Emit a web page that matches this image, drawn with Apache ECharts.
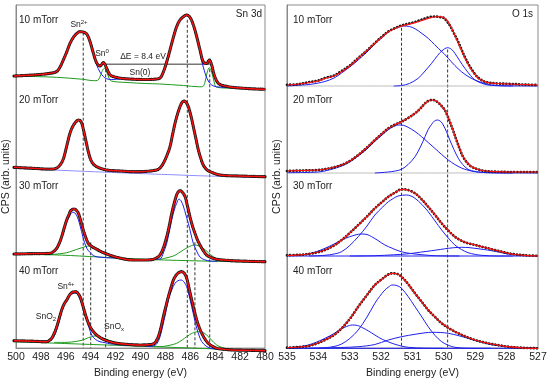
<!DOCTYPE html>
<html><head><meta charset="utf-8">
<script src="https://cdn.jsdelivr.net/npm/echarts@6/dist/echarts.min.js"></script>
<style>html,body{margin:0;padding:0;background:#fff}#c{width:550px;height:384px}</style>
</head><body><div id="c"></div>
<script>
// ================= DATA =================
const pressures = ['10 mTorr', '20 mTorr', '30 mTorr', '40 mTorr'];
const snTicks = [480, 482, 484, 486, 488, 490, 492, 494, 496, 498, 500];
const oTicks = [527, 528, 529, 530, 531, 532, 533, 534, 535];
const xTitle = 'Binding energy (eV)';
const yTitle = 'CPS (arb. units)';

// Sn 3d reference energies (dashed lines) and ΔE bracket
const snRefE = [494.6, 492.8, 486.24, 484.44, 494.0, 485.63];
const oRefE = [531.35, 529.88];
const deltaE = [492.8, 484.44];

// ---- Sn 3d, 10 mTorr ----
const sn10_fit = [[500,10],[498.5,11],[497.2,12.5],[496.6,14.5],[496.33,19],[496.07,26],[495.8,34],[495.54,42.5],[495.27,48.5],[495.0,52.5],[494.74,54.3],[494.5,54],[494.21,52],[493.94,44.3],[493.68,33],[493.41,23],[493.15,20],[492.88,23.3],[492.61,17.5],[492.4,12],[492.21,10],[491.5,7.8],[490.5,6.8],[489.5,6.5],[488.8,6.8],[488.37,8],[488.1,14],[487.83,24.3],[487.57,36],[487.3,48.7],[487.04,59.3],[486.77,66],[486.51,69.3],[486.24,71],[485.98,68.7],[485.71,61],[485.44,49.3],[485.18,36],[484.92,24.3],[484.65,22.5],[484.44,26],[484.25,21],[484.07,12],[483.85,5],[483.59,1.5],[483,-0.5],[482.5,-1.5],[481,-2.8],[480,-3.3]];
const sn10_sn2 = [[500,10],[498.5,11],[497.2,12.5],[496.6,14.5],[496.33,19],[496.07,26],[495.8,34],[495.54,42.5],[495.27,48.5],[495.0,52.5],[494.74,54.3],[494.5,54],[494.21,52],[493.94,44.3],[493.68,32.5],[493.41,21],[493.15,14],[492.88,9.5],[492.61,7.2],[492.21,6.5],[491.5,7],[490.5,6.5],[489.5,6.3],[488.8,6.6],[488.37,7.8],[488.1,14],[487.83,24.3],[487.57,36],[487.3,48.7],[487.04,59.3],[486.77,66],[486.51,69.3],[486.24,71],[485.98,68.7],[485.71,61],[485.44,49.3],[485.18,34],[485.04,25],[484.78,13],[484.52,5],[484.25,1],[483.85,-0.8],[483,-1.5],[482.5,-2],[481,-2.8],[480,-3.3]];
const sn10_sn0 = [[500,10],[498,9.3],[496.6,8.7],[494.6,6.8],[493.6,5.3],[493.35,5.6],[493.15,9],[492.99,14.5],[492.8,17.7],[492.61,14],[492.43,8],[492.25,5],[491,3.5],[489.5,2.5],[488.4,2],[486.5,0.5],[485.2,-0.8],[484.95,-0.5],[484.78,4],[484.6,14],[484.44,18.3],[484.25,14],[484.07,5],[483.85,-1.2],[482.5,-2.3],[480,-3.3]];

// ---- Sn 3d, 20 mTorr ----
const sn20_fit = [[500,5.7],[498.5,4.7],[497.2,3.9],[496.87,4],[496.6,5],[496.33,8],[496.1,13],[495.94,19.7],[495.74,30],[495.54,39.7],[495.34,46],[495.14,50],[494.87,53],[494.74,52.5],[494.61,50],[494.48,44],[494.34,36.3],[494.2,28],[494.08,21.3],[493.81,11.3],[493.41,6.3],[492.61,3],[491.5,2],[490.49,1.3],[489.5,1.6],[488.63,3],[488.37,5],[488.1,9.7],[487.83,17],[487.57,26.3],[487.37,38],[487.17,49.7],[486.97,59],[486.77,66.3],[486.61,70.5],[486.45,72],[486.28,70.5],[486.11,66.3],[485.9,57],[485.71,46.3],[485.5,34],[485.31,23],[485.1,14],[484.92,8],[484.65,3.5],[484.38,1.3],[483.59,-2],[482,-3],[480,-3.7]];
const sn20_bg = [[500,4.7],[496.87,3],[493.5,1.2],[490.5,-0.3],[487.5,-1.7],[484.6,-3],[480,-4.3]];

// ---- Sn 3d, 30 mTorr ----
const sn30_fit = [[500,2],[498.5,2.4],[497.13,2.7],[496.85,4.5],[496.6,7.7],[496.4,12.5],[496.2,19.3],[496.0,28],[495.8,36],[495.6,42],[495.48,45.3],[495.22,47],[495.05,46],[494.87,42.7],[494.68,35],[494.48,26],[494.28,18.5],[494.08,12.7],[493.8,9.5],[493.55,7.7],[493.2,5.3],[492.88,3.3],[491.82,-1.3],[490.49,-4],[489.5,-4],[488.9,-3.3],[488.6,-1.5],[488.37,1],[488.1,8],[487.83,19.3],[487.63,30],[487.43,42.7],[487.23,53],[487.04,61],[486.9,64.3],[486.77,65.3],[486.6,64],[486.37,59.3],[486.18,50],[485.98,39.3],[485.78,30],[485.58,22.7],[485.38,16],[485.18,11],[484.9,5],[484.65,1],[484.3,-1.5],[483.85,-3.3],[482.53,-4.7],[480,-5.7]];
const sn30_a = [[497.6,1.6],[497.13,2.3],[496.85,4],[496.6,6.5],[496.4,11],[496.2,18],[496.0,26],[495.8,33.7],[495.6,39],[495.45,42.5],[495.32,43.7],[495.15,43],[494.95,39],[494.75,31],[494.48,17.7],[494.28,10],[494.08,5.5],[493.8,1.8],[493.55,-0.3],[493.1,-1.3],[492.61,-1.8],[491.6,-2.1]];
const sn30_b = [[489,-3.4],[488.37,-3],[488.1,3],[487.83,12.7],[487.63,24],[487.43,36],[487.23,46],[487.04,52.7],[486.85,57],[486.68,55],[486.51,50],[486.3,41],[486.11,32.7],[485.9,22],[485.71,12.7],[485.45,5],[485.18,-1],[484.8,-3.8],[484.38,-5],[483.8,-5.4]];
const sn30_c = [[497.6,1.3],[497.13,1.4],[496.4,2.2],[495.8,3.3],[495.3,5.3],[494.74,7.7],[494.3,9.4],[494.0,10],[493.6,8.8],[493.15,6],[492.6,2],[492.09,-0.3],[491.4,-2],[490.5,-2.8]];
const sn30_d = [[488.6,-3.8],[488.0,-2.3],[487.3,0],[486.9,2.8],[486.51,6],[486.1,9],[485.63,11],[485.25,10],[484.92,7.7],[484.5,3.2],[484.12,-0.7],[483.6,-3.8],[483.06,-5.2],[482.5,-5.6]];
const sn30_bg = [[500,1.5],[497,1.2],[494,-0.5],[491,-2.5],[488,-4],[484,-5.3],[480,-6.3]];

// ---- Sn 3d, 40 mTorr ----
const sn40_fit = [[500,11.3],[498.5,10.8],[497.4,10.3],[497.2,11.5],[497.0,13.7],[496.8,18.5],[496.6,25],[496.4,33.5],[496.2,42],[496.0,48],[495.8,52],[495.54,57.5],[495.3,60],[495.06,60.3],[494.9,58.5],[494.74,55.3],[494.54,47.5],[494.34,38.7],[494.14,31],[493.94,25.3],[493.68,20.5],[493.41,17],[493.15,14.6],[492.88,12.7],[492.4,10.5],[491.82,8.7],[490.9,7.6],[489.96,7],[489.3,7.3],[488.9,8],[488.7,10.5],[488.5,15.3],[488.3,24],[488.1,35.3],[487.9,45.5],[487.7,55.3],[487.5,64],[487.3,72],[487.15,75.5],[487.0,78],[486.82,79.7],[486.64,80.3],[486.45,79],[486.24,73.7],[486.04,63],[485.84,52],[485.64,41.5],[485.44,32],[485.24,24.5],[485.04,18.7],[484.78,12.8],[484.52,8.7],[484.2,5.8],[483.85,3.7],[483.2,2.6],[482.53,2],[481,1.6],[480,1.3]];
const sn40_a = [[497.8,9.3],[497.13,11],[496.85,14.5],[496.6,22],[496.35,33],[496.07,45.3],[495.8,52.5],[495.54,57],[495.3,58.5],[495.06,58.7],[494.85,55.5],[494.61,48.7],[494.41,40.5],[494.21,32],[494.01,24],[493.81,17],[493.5,12.5],[493.15,10.3],[492.75,9.3],[492.35,8.2],[491.5,7.2],[490.5,6.3]];
const sn40_b = [[489.5,5.5],[488.9,6],[488.63,8],[488.37,15],[488.1,28.7],[487.9,40],[487.7,52],[487.43,62],[487.17,68.7],[486.93,71.3],[486.69,72],[486.45,70],[486.24,65.3],[486.04,56],[485.84,45.3],[485.64,34],[485.44,23.7],[485.24,16],[485.04,10.3],[484.7,6],[484.38,3.9],[483.9,3],[483.2,2.6]];
const sn40_c = [[496.8,9.6],[496,9.6],[495.4,10],[494.74,11.3],[494.35,12.8],[494.08,14.3],[493.8,15.4],[493.55,16],[493.2,15.2],[492.88,13.7],[492.5,12],[492.09,10.3],[491.5,8.6],[490.8,7.3],[490,6]];
const sn40_d = [[489.5,5.6],[488.6,5.4],[488.1,5.6],[487.5,7],[487.04,8.7],[486.6,12],[486.24,15.3],[485.8,18.8],[485.31,20.3],[484.95,19.5],[484.65,17],[484.3,12.5],[483.85,7],[483.3,4],[482.8,2.7],[482,2]];
const sn40_bg = [[500,10.3],[496,8.5],[492,6.7],[488,4.9],[484,3.1],[480,1.3]];

// ---- O 1s, 10 mTorr ----
const o10_meas = [[535,1.2],[534.6,2],[534.32,3.8],[534.0,5.5],[533.79,8],[533.5,10.5],[533.26,15],[533.0,20.5],[532.73,28],[532.45,35.5],[532.2,43],[531.95,50],[531.77,54.5],[531.55,58],[531.35,60.5],[531.1,62.5],[530.92,64],[530.7,66.5],[530.5,68.5],[530.3,69.5],[530.13,69],[530.0,68],[529.91,65],[529.8,60],[529.7,54],[529.54,44],[529.43,36],[529.33,29],[529.2,21],[529.12,17],[529.0,11.5],[528.91,8.5],[528.75,5],[528.59,3.5],[528.3,2.5],[527.95,2.2],[527.5,1.5],[527,1]];
const o10_fit = [[535,1],[534.6,2],[534.32,3.3],[534.0,5],[533.79,7.5],[533.5,10],[533.26,14.3],[533.0,20],[532.73,27.7],[532.45,35.5],[532.2,42.7],[531.95,49.5],[531.77,54.3],[531.55,57.7],[531.35,60],[531.1,61.8],[530.92,63.3],[530.7,65.5],[530.5,67.7],[530.3,69],[530.13,69.3],[530.0,68.3],[529.91,66],[529.83,62.5],[529.75,57.7],[529.65,50.5],[529.54,42.7],[529.43,35],[529.33,27.7],[529.22,21.3],[529.12,16],[529.0,11],[528.91,7.7],[528.75,5],[528.59,3.3],[528.3,2.5],[527.95,2],[527.5,1.5],[527,1]];
const o10_a = [[535,0],[534.3,1.5],[534.0,3],[533.79,4.5],[533.5,8],[533.26,13],[533.0,19],[532.73,26],[532.45,34],[532.2,42],[531.95,49],[531.77,54],[531.55,57.8],[531.3,60],[531.1,59.5],[530.92,57.3],[530.7,52.5],[530.5,47.7],[530.3,41.5],[530.18,37.7],[530.0,32.5],[529.86,27.7],[529.65,20.5],[529.44,14.3],[529.2,9],[529.01,6],[528.75,3],[528.48,1],[528.0,0.2],[527,0]];
const o10_b = [[531.6,0],[531.35,0.5],[531.1,2.5],[530.82,7.7],[530.6,15],[530.39,22.7],[530.2,30.5],[530.07,35],[529.88,38.3],[529.75,36.5],[529.65,32.7],[529.5,25.5],[529.33,17.7],[529.15,10.5],[529.01,6],[528.8,2.8],[528.59,1],[528.2,0.2],[527.8,0]];
const o10_base = [[535,0],[527,0]];

// ---- O 1s, 20 mTorr ----
const o20_fit = [[535,2],[534.5,2.5],[534,3],[533.6,5],[533.26,8],[533.0,12],[532.73,18],[532.45,25.5],[532.2,33],[531.95,40],[531.77,44.7],[531.55,48.5],[531.35,51.3],[531.14,55],[530.92,59.7],[530.75,64.5],[530.6,69.7],[530.5,72],[530.39,73],[530.28,72.5],[530.18,70.3],[530.07,67],[529.97,63],[529.89,57.5],[529.81,51.3],[529.7,42],[529.6,33],[529.5,24.5],[529.39,16.3],[529.25,10],[529.12,6.3],[528.9,3.5],[528.69,2],[528.3,1.3],[527.95,1],[527,1]];
const o20_a = [[535,0.3],[534.5,0.5],[534,1],[533.6,3.5],[533.26,7],[533.0,11],[532.73,17],[532.45,24],[532.2,31.7],[531.95,38.5],[531.77,43.3],[531.6,46.5],[531.43,48],[531.28,47.6],[531.14,45.7],[530.92,41.5],[530.71,36.3],[530.5,30.5],[530.29,24.7],[530.07,18.5],[529.86,13],[529.65,8.5],[529.44,5],[529.23,2.8],[529.01,1.3],[528.6,0.5],[528,0.2],[527,0]];
const o20_b = [[532.2,0],[531.77,1],[531.55,2],[531.35,3.7],[531.14,8.5],[530.92,16.3],[530.75,26],[530.6,36.3],[530.5,43.5],[530.39,48.7],[530.3,52],[530.21,53],[530.1,51.5],[530.02,48],[529.92,41.5],[529.81,33],[529.68,23.5],[529.54,14.7],[529.4,8.5],[529.23,3.7],[529.0,1.5],[528.8,0.6],[528.3,0],[527.8,0]];
const o20_base = [[535,0],[527,0]];

// ---- O 1s, 30 mTorr ----
const o30_fit = [[535,0.7],[534.6,1.2],[534.32,2],[534.05,3.5],[533.79,6],[533.5,10.5],[533.26,16],[533.0,23],[532.73,31],[532.45,39.5],[532.2,47.7],[531.95,54.5],[531.77,59.3],[531.55,63.5],[531.35,66.7],[531.14,66],[530.92,62.7],[530.7,56.5],[530.5,49.3],[530.28,41],[530.07,32.7],[529.86,25.5],[529.65,19.3],[529.44,15.3],[529.23,12.7],[529.0,11],[528.8,9.3],[528.6,7.8],[528.38,6],[528.15,4.2],[527.95,2.7],[527.7,1.5],[527.42,0.7],[527,0.2]];
const o30_a = [[534.3,0],[533.79,0.7],[533.5,2],[533.26,4.3],[533.0,10.5],[532.73,19.3],[532.45,30],[532.2,41],[531.95,49],[531.77,54.3],[531.6,57.7],[531.46,60],[531.19,61],[531.05,60],[530.92,57.7],[530.7,51.5],[530.5,44.3],[530.28,35],[530.07,26],[529.86,18],[529.65,11],[529.44,6.5],[529.23,3.3],[529.0,1.6],[528.8,0.7],[528.3,0],[527.8,0]];
const o30_b = [[535,0.3],[534.6,1],[534.32,2],[534.05,4.5],[533.79,7.7],[533.5,12],[533.26,16],[533.0,19.3],[532.8,21.2],[532.64,22],[532.45,21.5],[532.3,19.3],[532.1,15.5],[531.88,11],[531.65,7.8],[531.46,5.3],[531.2,3.2],[530.92,2],[530.6,1],[530.29,0.3],[529.5,0]];
const o30_c = [[533,0],[532.2,0.3],[531.6,1.2],[531.14,2.2],[530.75,3.8],[530.39,5.3],[530.1,6.6],[529.86,7.7],[529.65,8.4],[529.44,8.7],[529.2,8.4],[529.01,7.7],[528.75,6.6],[528.48,5.3],[528.2,3.6],[527.95,2],[527.5,0.7],[527,0.2]];
const o30_base = [[535,0],[527,0]];

// ---- O 1s, 40 mTorr ----
const o40_fit = [[535,4.3],[534.6,5],[534.32,6],[534.05,8.5],[533.79,12],[533.5,17],[533.26,23.7],[533.0,33],[532.73,45.3],[532.45,57],[532.2,67],[531.95,73.5],[531.8,77],[531.65,78.7],[531.5,78.2],[531.35,75.3],[531.14,68],[530.92,58.7],[530.7,50],[530.5,42],[530.28,35],[530.07,28.7],[529.8,23],[529.54,18.7],[529.27,15],[529.01,12],[528.75,9.8],[528.48,8],[528.2,6.5],[527.95,5.3],[527.5,4.2],[527,3.7]];
const o40_a = [[534.3,3.7],[533.79,4.3],[533.5,5.5],[533.26,8],[533.0,13.5],[532.73,22],[532.45,35],[532.2,48.7],[532.05,55.5],[531.88,62],[531.75,65.3],[531.65,67],[531.5,66.5],[531.35,63.7],[531.14,55.5],[530.92,45.3],[530.7,35],[530.5,25.3],[530.28,16.5],[530.07,10.3],[529.86,6.8],[529.65,4.7],[529.23,3.8],[528.5,3.7]];
const o40_b = [[535,4.3],[534.6,5.3],[534.32,7],[534.05,10],[533.79,13.7],[533.5,18.5],[533.26,23.2],[533.1,25.5],[532.92,27],[532.75,26.5],[532.62,24.7],[532.4,21],[532.2,17],[531.95,12.5],[531.65,8.7],[531.4,6.3],[531.14,4.7],[530.6,3.8],[530,3.7]];
const o40_c = [[535,3.7],[534,3.9],[533.3,4.5],[532.73,5.3],[532.2,7.5],[531.77,12],[531.35,15.3],[530.92,17.7],[530.6,19.2],[530.39,19.7],[530.1,19.5],[529.86,18.7],[529.55,16.5],[529.23,13.7],[528.9,10.8],[528.59,8],[528.2,6],[527.74,4.7],[527.3,4],[527,3.7]];
const o40_base = [[535,3.7],[527,3.7]];

// ================= LAYOUT / STYLE =================
const FONT = '"Liberation Sans", Arial, Helvetica, sans-serif';
const RED = '#ff1010', BLUE = '#1f1fee', GREEN = '#1e9a1e', LBLUE = '#8f8fff', GRAY = '#bdbdbd';
const panelLeft = [14, 287], panelW = 251, frameTop = 5, frameH = 347;
const subTop = [5, 86, 173, 256], subH = [81, 87, 83, 96];
// dashed line start heights (px above bottom of panel)
const snRefTop = [319, 282, 332, 282, 107, 107];
const oRefTop = [324, 302];

const grids = [], xAxes = [], yAxes = [], series = [];
// frames 0 (Sn), 1 (O)
[0, 1].forEach(p => {
  const ticks = p === 0 ? snTicks : oTicks;
  grids.push({left: panelLeft[p], top: frameTop, width: panelW, height: frameH, show: true, borderColor: '#8a8a8a', borderWidth: 1, backgroundColor: 'transparent'});
  xAxes.push({gridIndex: p, type: 'value', inverse: true, min: ticks[0], max: ticks[ticks.length-1], interval: ticks[1]-ticks[0],
    axisLine: {show: true, onZero: false, lineStyle: {color: '#8a8a8a'}}, axisTick: {show: false}, splitLine: {show: false},
    axisLabel: {color: '#222', fontSize: 10.5, fontFamily: FONT, margin: 4},
    name: xTitle, nameLocation: 'middle', nameGap: 18, nameTextStyle: {color: '#222', fontSize: 10.5, fontFamily: FONT}});
  yAxes.push({gridIndex: p, type: 'value', min: 0, max: frameH, axisLine: {show: true, lineStyle: {color: '#8a8a8a'}}, axisTick: {show: false},
    axisLabel: {show: false}, splitLine: {show: false},
    name: yTitle, nameLocation: 'middle', nameGap: 4, nameTextStyle: {color: '#222', fontSize: 10.5, fontFamily: FONT}});
});
// sub panels 2..5 (Sn), 6..9 (O)
[0, 1].forEach(p => {
  const ticks = p === 0 ? snTicks : oTicks;
  for (let i = 0; i < 4; i++) {
    const gi = grids.length;
    grids.push({left: panelLeft[p], top: subTop[i], width: panelW, height: subH[i], show: false});
    xAxes.push({gridIndex: gi, type: 'value', inverse: true, min: ticks[0], max: ticks[ticks.length-1], show: false});
    yAxes.push({gridIndex: gi, type: 'value', min: 0, max: subH[i], show: false});
  }
});

function ln(gi, data, color, width, z, extra) {
  return Object.assign({type: 'line', xAxisIndex: gi, yAxisIndex: gi, data: data, smooth: 0.35, symbol: 'none',
    clip: false, silent: true, animation: false, z: z, lineStyle: {color: color, width: width}}, extra || {});
}
function dots(gi, data, w, gap) {
  return ln(gi, data, '#151515', w, 4, {lineStyle: {color: '#151515', width: w, type: [0.1, gap], cap: 'round'}});
}

// Sn panels
const snSets = [
  {fit: sn10_fit, comps: [[sn10_sn0, GREEN], [sn10_sn2, BLUE]]},
  {fit: sn20_fit, comps: [[sn20_bg, LBLUE]]},
  {fit: sn30_fit, comps: [[sn30_bg, GREEN], [sn30_c, GREEN], [sn30_d, GREEN], [sn30_a, BLUE], [sn30_b, BLUE]]},
  {fit: sn40_fit, comps: [[sn40_bg, GREEN], [sn40_c, GREEN], [sn40_d, GREEN], [sn40_a, BLUE], [sn40_b, BLUE]]}
];
snSets.forEach((s, i) => {
  const gi = 2 + i;
  s.comps.forEach(c => series.push(ln(gi, c[0], c[1], 1, 3)));
  series.push(dots(gi, s.fit, 3.2, 1.6));
  series.push(ln(gi, s.fit, RED, 1.4, 5));
});
// O panels
const oSets = [
  {meas: o10_meas, fit: o10_fit, base: o10_base, baseColor: GRAY, comps: [o10_a, o10_b]},
  {meas: o20_fit, fit: o20_fit, base: o20_base, baseColor: GRAY, comps: [o20_a, o20_b]},
  {meas: o30_fit, fit: o30_fit, base: o30_base, baseColor: BLUE, comps: [o30_a, o30_b, o30_c]},
  {meas: o40_fit, fit: o40_fit, base: o40_base, baseColor: BLUE, comps: [o40_a, o40_b, o40_c]}
];
oSets.forEach((s, i) => {
  const gi = 6 + i;
  series.push(ln(gi, s.base, s.baseColor, 1, 2));
  s.comps.forEach(c => series.push(ln(gi, c, BLUE, 1, 3)));
  series.push(dots(gi, s.meas, 2.7, 3.1));
  series.push(ln(gi, s.fit, RED, 1.2, 5));
});
// dashed reference lines
snRefE.forEach((e, k) => series.push(ln(0, [[e, snRefTop[k]], [e, 0]], '#333', 1, 1, {smooth: false, lineStyle: {color: '#333', width: 1, type: [3, 2]}})));
oRefE.forEach((e, k) => series.push(ln(1, [[e, oRefTop[k]], [e, 0]], '#333', 1, 1, {smooth: false, lineStyle: {color: '#333', width: 1, type: [3, 2]}})));
// ΔE bracket
series.push(ln(0, [[deltaE[0], 287], [deltaE[1], 287]], '#777', 1.5, 2, {smooth: false}));

// texts
const T = (text, x, y, size, align, rich) => ({type: 'text', x: x, y: y, silent: true, z: 20,
  style: {text: text, fill: '#222', fontSize: size, fontFamily: FONT, align: align || 'left', verticalAlign: 'middle', rich: rich}});
const richS = {sup: {fontSize: 6, fontFamily: FONT, fill: '#222', verticalAlign: 'top', lineHeight: 6}, sub: {fontSize: 6, fontFamily: FONT, fill: '#222', verticalAlign: 'bottom', lineHeight: 6}, b: {fontSize: 8.5, fontFamily: FONT, fill: '#222', lineHeight: 11}};
const labelY = [20, 100, 186, 271];
const graphics = [];
pressures.forEach((p, i) => {
  graphics.push(T(p, 19, labelY[i], 10));
  graphics.push(T(p, 293, labelY[i], 10));
});
graphics.push(T('Sn 3d', 262, 14, 10, 'right'));
graphics.push(T('O 1s', 533, 14, 10, 'right'));
graphics.push(T('{b|Sn}{sup|2+}', 79, 25, 8.5, 'center', richS));
graphics.push(T('{b|Sn}{sup|0}', 102, 54, 8.5, 'center', richS));
graphics.push(T('ΔE = 8.4 eV', 143, 57, 8.5, 'center'));
graphics.push(T('Sn(0)', 140, 73, 8.5, 'center'));
graphics.push(T('{b|Sn}{sup|4+}', 66, 287, 8.5, 'center', richS));
graphics.push(T('{b|SnO}{sub|2}', 46, 317, 8.5, 'center', richS));
graphics.push(T('{b|SnO}{sub|x}', 114, 327, 8.5, 'center', richS));

const chart = echarts.init(document.getElementById('c'), null, {renderer: 'canvas'});
chart.setOption({animation: false, grid: grids, xAxis: xAxes, yAxis: yAxes, series: series, graphic: graphics});
</script></body></html>
